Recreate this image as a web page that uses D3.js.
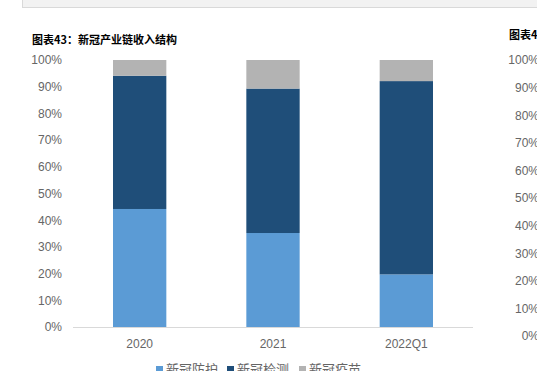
<!DOCTYPE html>
<html>
<head>
<meta charset="utf-8">
<script src="https://cdn.jsdelivr.net/npm/d3@7"></script>
<style>
  body { margin: 0; background: #fff; }
  svg { display: block; font-family: "Liberation Sans", Arial, sans-serif; }
</style>
</head>
<body>
<div id="chart"></div>
<script>
var width = 537, height = 371;

// data (shares, %)
var years = ["2020", "2021", "2022Q1"];
var series = ["新冠防护", "新冠检测", "新冠疫苗"];
var fanghu = [44.2, 35.2, 19.7];
var jiance = [49.9, 54.1, 72.4];
var yimiao = [5.9, 10.7, 7.9];
var ticks = [0, 10, 20, 30, 40, 50, 60, 70, 80, 90, 100];

var colors = ["#5b9bd5", "#1f4e79", "#b3b3b3"];
var text_color = "#666666";

var svg = d3.select("#chart").append("svg")
    .attr("width", width).attr("height", height);

// grey panel at the top (part of the page above)
svg.append("rect")
    .attr("x", 22.5).attr("y", -2).attr("width", 520).attr("height", 9.5)
    .attr("fill", "#f2f2f2").attr("stroke", "#d9d9d9");

// titles
svg.append("text").attr("x", 32).attr("y", 44)
    .attr("font-size", "11px").attr("font-weight", "bold").attr("fill", "#000")
    .style("font-family", "'Noto Sans CJK SC', sans-serif")
    .text("图表43：新冠产业链收入结构");
svg.append("text").attr("x", 509).attr("y", 39)
    .attr("font-size", "11px").attr("font-weight", "bold").attr("fill", "#000")
    .style("font-family", "'Noto Sans CJK SC', sans-serif")
    .text("图表44");

// scales
var x = d3.scaleBand().domain(years).range([73, 473]).paddingInner(0.6).paddingOuter(0.3);
var y = d3.scaleLinear().domain([0, 100]).range([327, 60]);

// stacked data
var rows = years.map(function(d, i) {
    return { year: d, "新冠防护": fanghu[i], "新冠检测": jiance[i], "新冠疫苗": yimiao[i] };
});
var stacked = d3.stack().keys(series)(rows);

svg.selectAll("g.layer").data(stacked).enter().append("g")
    .attr("class", "layer")
    .attr("fill", function(d, i) { return colors[i]; })
    .selectAll("rect").data(function(d) { return d; }).enter().append("rect")
    .attr("x", function(d) { return x(d.data.year); })
    .attr("y", function(d) { return y(d[1]); })
    .attr("width", x.bandwidth())
    .attr("height", function(d) { return y(d[0]) - y(d[1]); });

// y axis labels
var yAxis = d3.axisLeft(y).tickValues(ticks).tickSize(0).tickPadding(0)
    .tickFormat(function(d) { return d + "%"; });
var gy = svg.append("g").attr("transform", "translate(62,0)").call(yAxis);
gy.select(".domain").remove();
gy.selectAll("text").attr("font-size", "12px").attr("fill", text_color)
    .style("font-family", "'Liberation Sans', Arial, sans-serif");

// x axis
var xAxis = d3.axisBottom(x).tickSize(0).tickPadding(12);
var gx = svg.append("g").attr("transform", "translate(0,327)").call(xAxis);
gx.select(".domain").attr("stroke", "#d9d9d9").attr("d", "M73,0.5H473");
gx.selectAll("text").attr("font-size", "12px").attr("fill", text_color)
    .style("font-family", "'Liberation Sans', Arial, sans-serif");

// right chart's axis labels (cut off at the edge)
var y2 = d3.scaleLinear().domain([0, 100]).range([336, 60]);
var gy2 = svg.append("g").attr("transform", "translate(539,0)")
    .call(d3.axisLeft(y2).tickValues(ticks).tickSize(0).tickPadding(0)
        .tickFormat(function(d) { return d + "%"; }));
gy2.select(".domain").remove();
gy2.selectAll("text").attr("font-size", "12px").attr("fill", text_color)
    .style("font-family", "'Liberation Sans', Arial, sans-serif");

// legend (runs off the bottom edge, as in the source)
var legend_x = [156, 227, 299];
var lg = svg.selectAll("g.legend").data(series).enter().append("g")
    .attr("class", "legend")
    .attr("transform", function(d, i) { return "translate(" + legend_x[i] + ",369)"; });
lg.append("rect").attr("x", 0).attr("y", -3).attr("width", 7).attr("height", 7)
    .attr("fill", function(d, i) { return colors[i]; });
lg.append("text").attr("x", 10).attr("y", 0).attr("dy", "0.35em")
    .attr("font-size", "13px").attr("fill", text_color)
    .style("font-family", "'Noto Sans CJK SC', sans-serif")
    .text(function(d) { return d; });
</script>
</body>
</html>
